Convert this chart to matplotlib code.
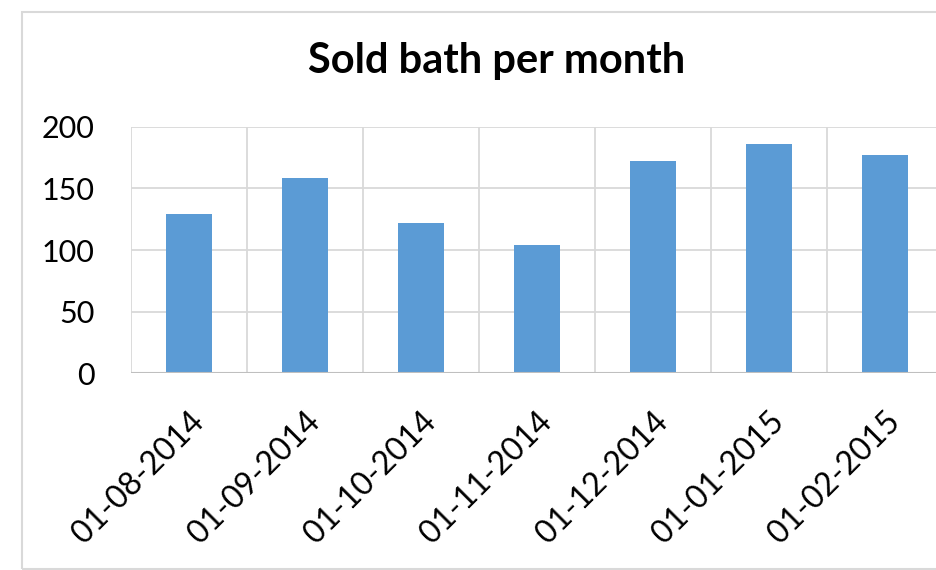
import matplotlib
matplotlib.use("Agg")
import matplotlib.pyplot as plt
from matplotlib.patches import Rectangle
from matplotlib.transforms import ScaledTranslation
import numpy as np

months = ["01-08-2014", "01-09-2014", "01-10-2014", "01-11-2014",
          "01-12-2014", "01-01-2015", "01-02-2015"]
sold = [129, 158, 122, 104, 172, 186, 177]
yticks = [0, 50, 100, 150, 200]

plt.rcParams['font.family'] = ['Lato', 'DejaVu Sans']

W, H = 936, 570
fig = plt.figure(figsize=(W / 100, H / 100), dpi=100)

# outer chart frame (cut off on the right like the original)
fig.patches.append(Rectangle((22 / W, 1 / H), 1.2, (H - 12 - 1) / H,
                             transform=fig.transFigure, fill=False,
                             edgecolor='#d9d9d9', linewidth=1.5))

# plot area: 116 px per category, runs past the right edge
left, right = 130.7, 130.7 + 116 * 7
top, bottom = 126.7, 373.3
ax = fig.add_axes([left / W, (H - bottom) / H, (right - left) / W, (bottom - top) / H])

x = np.arange(len(months))
ax.bar(x, sold, width=0.4, color='#5b9bd5', zorder=3)

ax.set_xlim(-0.5, len(months) - 0.5)
ax.set_ylim(0, 200)
ax.set_yticks(yticks)
ax.set_xticks(x)
shift = ScaledTranslation(-16 / 100, 0, fig.dpi_scale_trans)
for lab in ax.set_xticklabels(months, rotation=45, ha='right', va='top',
                              rotation_mode='anchor', fontsize=23):
    lab.set_transform(lab.get_transform() + shift)

# category gridlines between bars, value gridlines
for b in np.arange(-0.5, len(months), 1.0):
    ax.axvline(b, color='#d9d9d9', linewidth=1.3, zorder=1)
for t in yticks[1:]:
    ax.axhline(t, color='#d9d9d9', linewidth=1.3, zorder=1)
ax.axhline(0, color='#bfbfbf', linewidth=1.5, zorder=4)

for s in ax.spines.values():
    s.set_visible(False)
ax.tick_params(axis='both', length=0, colors='black')
ax.tick_params(axis='y', pad=26, labelsize=22)
ax.tick_params(axis='x', pad=24)

fig.text(497 / W, 1 - 73 / H, "Sold bath per month", ha='center', va='baseline',
         fontsize=30, fontweight='bold')

fig.savefig("out.png", dpi=100)
